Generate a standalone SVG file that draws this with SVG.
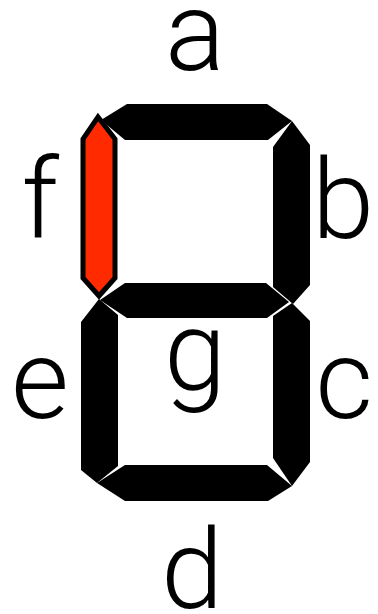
<svg xmlns="http://www.w3.org/2000/svg" width="378" height="614" viewBox="0 0 378 614">
<style>
.seg{fill:#000;stroke:none}
.on{fill:#ff2a00;stroke:#000;stroke-width:5;stroke-linejoin:miter}
.lbl{font-family:Roboto,"Liberation Sans",sans-serif;font-weight:300;font-size:112px;fill:#000;text-anchor:middle}
</style>
<rect width="378" height="614" fill="#fff"/>
<g id="seg-a"><polygon class="seg" points="101,120 127,104 267,104 292,121 268,140 125,140"/></g>
<g id="seg-b"><polygon class="seg" points="292,121 310,145 310,285 293,304 273,287 273,147"/></g>
<g id="seg-g"><polygon class="seg" points="100,300 125,283 266,283 289,302 267,318 127,318"/></g>
<g id="seg-c"><polygon class="seg" points="292,303 310,321 310,462 292,486 273,458 273,316"/></g>
<g id="seg-d"><polygon class="seg" points="97,483 125,465 267,465 292,486 268,501 125,501"/></g>
<g id="seg-e"><polygon class="seg" points="99,299 118,315 118,466 97,483 81,470 81,322"/></g>
<g id="seg-f"><polygon class="on" points="98,117 115,139 115,278 99,296 83,278 83,139"/></g>
<g id="labels">
<text class="lbl" x="195" y="70">a</text>
<text class="lbl" x="343" y="238">b</text>
<text class="lbl" x="344" y="418">c</text>
<text class="lbl" x="192" y="608">d</text>
<text class="lbl" x="40" y="418">e</text>
<text class="lbl" x="40" y="238">f</text>
<text class="lbl" x="195" y="390">g</text>
</g>
</svg>
